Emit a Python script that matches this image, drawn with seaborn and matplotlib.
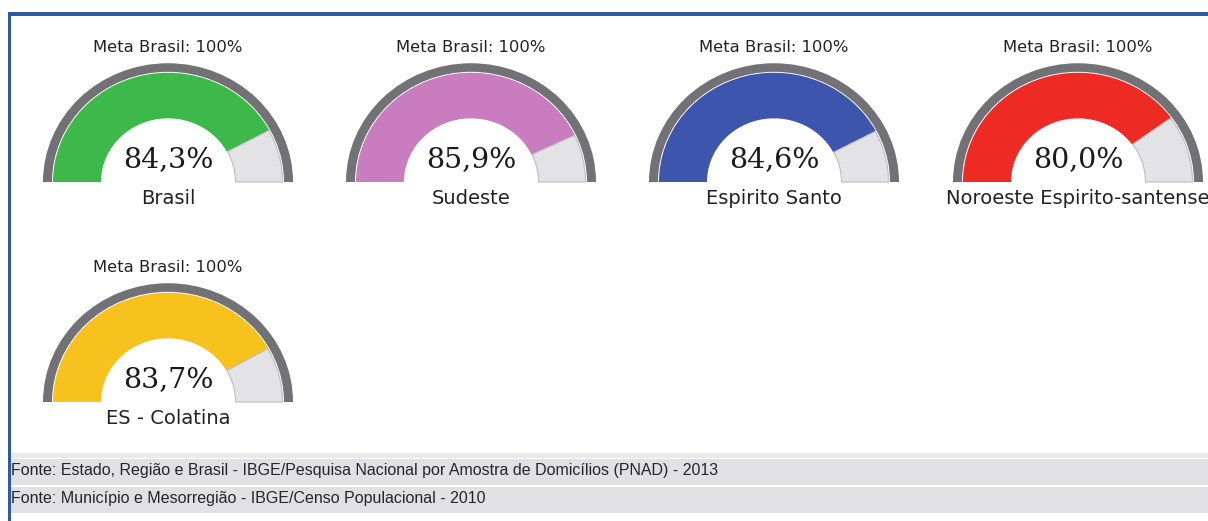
import matplotlib
matplotlib.use("Agg")
import matplotlib.pyplot as plt
from matplotlib.patches import Wedge, Rectangle
from matplotlib.transforms import Affine2D
import seaborn as sns

# Coverage indicator per area (percent) against the national goal
regions = ["Brasil", "Sudeste", "Espirito Santo", "Noroeste Espirito-santense", "ES - Colatina"]
values = [84.3, 85.9, 84.6, 80.0, 83.7]
colors = ["#3cb94a", "#c97dbf", "#3d55ad", "#ee2a25", "#f7c11e"]
goal = 100
goal_label = "Meta Brasil: 100%"
sources = [
    "Fonte: Estado, Região e Brasil - IBGE/Pesquisa Nacional por Amostra de Domicílios (PNAD) - 2013",
    "Fonte: Município e Mesorregião - IBGE/Censo Populacional - 2010",
]

sns.set_theme(style="white")
plt.rcParams["font.family"] = ["DejaVu Sans"]

W, H = 1208, 521
fig = plt.figure(figsize=(W / 100, H / 100), dpi=100)
ax = fig.add_axes([0, 0, 1, 1])
ax.set_xlim(0, W)
ax.set_ylim(H, 0)
ax.axis("off")

# frame lines (top and left)
border = "#2c5aa6"
ax.add_patch(Rectangle((8, 12), W, 4, color=border, lw=0, zorder=5))
ax.add_patch(Rectangle((8, 12), 3, H, color=border, lw=0, zorder=5))

# gauge layout
col_x = [168, 471, 774, 1078]
row_y = [182, 402]
r_ring, ring_w = 125, 9
r_out, r_in = 115, 67
squash = 0.95
ring_col = "#727276"
rest_col = "#e3e3e5"


def gauge(cx, cy, value, color, name):
    tr = Affine2D().scale(1, squash).translate(cx, cy) + ax.transData
    split = 180 + 180 * value / goal
    ax.add_patch(Wedge((0, 0), r_ring, 180, 360, width=ring_w,
                       facecolor=ring_col, edgecolor="none", transform=tr))
    ax.add_patch(Wedge((0, 0), r_out, 180, split, width=r_out - r_in,
                       facecolor=color, edgecolor="none", transform=tr))
    ax.add_patch(Wedge((0, 0), r_out - 0.5, split, 360, width=r_out - r_in - 1,
                       facecolor=rest_col, edgecolor="#bdbdc0", lw=0.8, transform=tr))
    ax.text(cx, cy - 134, goal_label, ha="center", va="center",
            fontsize=11.8, color="#222222")
    ax.text(cx, cy - 22, f"{value:.1f}".replace(".", ",") + "%", ha="center",
            va="center", fontsize=20.5, family="DejaVu Serif", color="#1a1a1a")
    ax.text(cx, cy + 17, name, ha="center", va="center",
            fontsize=14, color="#222222")


for i, (name, v, c) in enumerate(zip(regions, values, colors)):
    gauge(col_x[i % 4], row_y[i // 4], v, c, name)

# source notes
ax.add_patch(Rectangle((11, 453), W, 5, color="#e9e9eb", lw=0))
ax.add_patch(Rectangle((11, 459), W, 26, color="#e1e1e3", lw=0))
ax.add_patch(Rectangle((11, 487), W, 26, color="#e1e1e3", lw=0))
for y, s in zip([471, 499], sources):
    ax.text(11, y, s, ha="left", va="center", fontsize=11.5,
            family="Liberation Sans", color="#262626")

fig.savefig("out.png", dpi=100)
